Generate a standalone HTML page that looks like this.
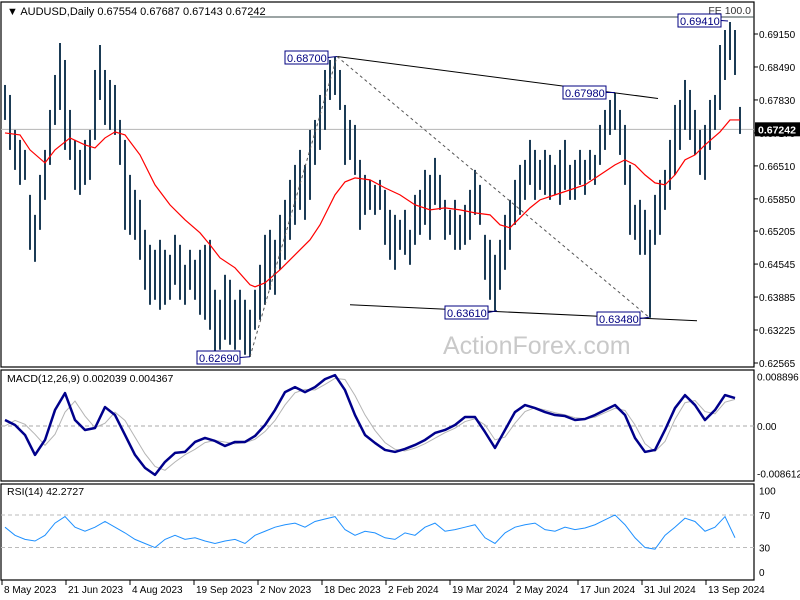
<!DOCTYPE html>
<html><head><meta charset="utf-8"><style>
html,body{margin:0;padding:0;background:#fff;}
svg{display:block;font-family:"Liberation Sans",sans-serif;}
</style></head><body>
<svg id="chart" width="800" height="600" viewBox="0 0 800 600" xmlns="http://www.w3.org/2000/svg">
<rect x="0" y="0" width="800" height="600" fill="#fff"/>
<g id="frames">
<rect x="1" y="2" width="753" height="365" fill="none" stroke="#000" stroke-width="1.2"/>
<rect x="1" y="370" width="753" height="111" fill="none" stroke="#000" stroke-width="1.2"/>
<rect x="1" y="484" width="753" height="96" fill="none" stroke="#000" stroke-width="1.2"/>
</g>
<text x="443" y="354" font-size="25" fill="#c9c9c9">ActionForex.com</text>
<g id="main"></g>
<g id="macd"></g>
<g id="rsi"></g>
<g id="axes"></g>
</svg>
<script>
// ---- data ----
const highs=[0.6813,0.6793,0.6723,0.6703,0.6683,0.6593,0.6553,0.6633,0.6683,0.6763,0.6833,0.6897,0.6863,0.6763,0.6703,0.6683,0.6703,0.6723,0.6843,0.6893,0.6843,0.6823,0.6813,0.6743,0.6703,0.6633,0.6603,0.6583,0.6523,0.6493,0.6483,0.6503,0.6483,0.6473,0.6513,0.6493,0.6453,0.6483,0.6463,0.6483,0.6493,0.6503,0.6403,0.6383,0.6433,0.6423,0.6383,0.6403,0.6383,0.6363,0.6403,0.6453,0.6513,0.6523,0.6503,0.6553,0.6583,0.6623,0.6653,0.6683,0.6653,0.6723,0.6743,0.6793,0.6843,0.6863,0.6869,0.6843,0.6773,0.6743,0.6733,0.6663,0.6633,0.6623,0.6613,0.6623,0.6603,0.6563,0.6553,0.6543,0.6563,0.6523,0.6593,0.6603,0.6643,0.6633,0.6667,0.6633,0.6583,0.6563,0.6583,0.6553,0.6573,0.6603,0.6643,0.6613,0.6513,0.6503,0.6473,0.6503,0.6553,0.6583,0.6623,0.6653,0.6663,0.6703,0.6683,0.6663,0.6683,0.6673,0.6653,0.6683,0.6703,0.6653,0.6663,0.6683,0.6663,0.6683,0.6673,0.6733,0.6763,0.6783,0.6797,0.6763,0.6733,0.6653,0.6573,0.6583,0.6563,0.6523,0.6593,0.6623,0.6643,0.6703,0.6773,0.6783,0.6823,0.6803,0.6763,0.6723,0.6733,0.6783,0.6793,0.6893,0.6923,0.6939,0.6923,0.6769];
const lows=[0.6743,0.6683,0.6643,0.6613,0.6623,0.6483,0.6459,0.6523,0.6583,0.6653,0.6733,0.6763,0.6683,0.6663,0.6603,0.6593,0.6613,0.6623,0.6703,0.6783,0.6733,0.6723,0.6713,0.6653,0.6523,0.6513,0.6503,0.6463,0.6403,0.6373,0.6383,0.6363,0.6373,0.6383,0.6413,0.6383,0.6373,0.6403,0.6383,0.6353,0.6343,0.6323,0.6279,0.6283,0.6303,0.6293,0.6283,0.6303,0.6273,0.6269,0.6323,0.6343,0.6373,0.6403,0.6393,0.6443,0.6463,0.6503,0.6533,0.6563,0.6543,0.6583,0.6653,0.6683,0.6723,0.6783,0.6793,0.6763,0.6653,0.6663,0.6633,0.6523,0.6553,0.6563,0.6553,0.6563,0.6493,0.6463,0.6443,0.6483,0.6473,0.6453,0.6493,0.6513,0.6533,0.6503,0.6573,0.6563,0.6503,0.6513,0.6483,0.6483,0.6493,0.6503,0.6553,0.6533,0.6423,0.6383,0.6361,0.6403,0.6443,0.6483,0.6533,0.6553,0.6583,0.6613,0.6583,0.6603,0.6593,0.6583,0.6593,0.6573,0.6603,0.6583,0.6583,0.6613,0.6593,0.6623,0.6613,0.6653,0.6683,0.6713,0.6723,0.6673,0.6613,0.6513,0.6503,0.6473,0.6473,0.6347,0.6493,0.6513,0.6563,0.6603,0.6633,0.6683,0.6723,0.6703,0.6673,0.6633,0.6623,0.6683,0.6723,0.6763,0.6823,0.6863,0.6833,0.6715];
const maIdx=[0,3,5,8,10,13,16,18,20,22,24,27,30,33,36,39,41,43,46,49,50,52,55,58,61,63,66,68,70,73,76,79,82,85,88,91,94,97,99,101,103,105,107,110,113,116,119,122,124,126,128,130,132,134,136,138,140,143,145,147];
const maVals=[0.6717,0.6713,0.6683,0.6657,0.6683,0.6707,0.6693,0.6687,0.6707,0.6719,0.6713,0.6673,0.6613,0.6573,0.6543,0.6517,0.6493,0.6467,0.6447,0.6413,0.6409,0.6417,0.6443,0.6473,0.6503,0.6533,0.6593,0.6619,0.6627,0.6623,0.6607,0.6593,0.6573,0.6563,0.6567,0.6563,0.6557,0.6553,0.6533,0.6527,0.6547,0.6567,0.6583,0.6593,0.6603,0.6613,0.6633,0.6653,0.6663,0.6653,0.6633,0.6617,0.6613,0.6633,0.6663,0.6673,0.6693,0.6719,0.6743,0.6743];
// MACD values x1000, sampled every 2 bars
const macdMain=[1.08,0.18,-1.62,-5.22,-2.52,2.88,5.94,1.08,-0.72,-0.36,3.42,1.98,-1.62,-5.22,-7.56,-8.82,-6.48,-4.86,-4.68,-2.88,-2.16,-2.70,-3.60,-2.88,-2.88,-1.80,0.18,2.88,6.12,7.02,6.12,7.02,8.46,9.18,6.48,1.98,-1.62,-3.06,-4.32,-4.68,-4.14,-3.42,-2.52,-1.26,-0.72,0.18,1.62,1.62,-1.08,-3.96,-0.72,2.52,3.78,3.24,2.52,1.98,1.80,1.08,1.26,1.98,2.88,3.78,1.98,-2.16,-4.68,-4.32,-0.72,3.24,5.58,3.78,1.08,2.88,5.58,5.04];
const macdSignal=[0.0,1.0,0.3,-1.5,-3.5,-1.5,2.5,4.5,1.8,-0.3,0.5,2.5,1.0,-2.0,-5.0,-7.3,-8.0,-6.5,-5.2,-4.2,-3.0,-2.6,-2.9,-3.2,-3.0,-2.4,-1.0,1.0,3.8,6.0,6.6,6.5,7.5,8.6,8.4,5.5,2.0,-0.8,-3.0,-4.2,-4.5,-4.0,-3.2,-2.2,-1.2,-0.4,0.8,1.3,0.2,-2.5,-2.0,0.5,2.6,3.3,2.9,2.4,2.0,1.5,1.3,1.6,2.4,3.2,2.8,0.2,-3.2,-4.6,-2.8,1.2,4.2,4.6,2.6,2.2,4.3,4.8];
const rsiVals=[55,45,40,38,45,60,68,55,50,55,62,55,48,40,35,30,40,45,40,42,38,35,38,40,35,45,50,55,58,60,55,62,65,68,52,45,50,48,42,40,48,45,55,60,50,52,55,58,42,35,48,55,58,60,52,50,55,52,54,58,64,70,58,42,30,28,45,55,66,62,50,55,68,42];
const priceTicks=["0.69150","0.68490","0.67830","0.67170","0.66510","0.65850","0.65205","0.64545","0.63885","0.63225","0.62565"];
const dateLabels=["8 May 2023","21 Jun 2023","4 Aug 2023","19 Sep 2023","2 Nov 2023","18 Dec 2023","2 Feb 2024","19 Mar 2024","2 May 2024","17 Jun 2024","31 Jul 2024","13 Sep 2024"];
const lastPrice=0.67242;
// ---- scales ----
const NS="http://www.w3.org/2000/svg";
const xB=i=>5+5*i;
const yP=p=>34+(0.6915-p)*4996;
const yM=v=>426-v*1e-3*5540;
const yR=v=>572-v*0.815;
function mk(tag,attrs,parent,txt){const e=document.createElementNS(NS,tag);for(const k in attrs)e.setAttribute(k,attrs[k]);if(txt!==undefined)e.textContent=txt;parent.appendChild(e);return e;}
const gMain=document.getElementById('main'),gM=document.getElementById('macd'),gR=document.getElementById('rsi'),gA=document.getElementById('axes');
let el=mk('line',{x1:1,x2:754,y1:yP(lastPrice),y2:yP(lastPrice),stroke:'#b4b4b4','stroke-width':1},gMain);


el=mk('line',{x1:250,x2:754,y1:yP(0.6949),y2:yP(0.6949),stroke:'#3a4a4a','stroke-width':1},gMain);


el=mk('text',{x:751,y:yP(0.6949)-3,'font-size':10.5,fill:'#333','text-anchor':'end'},gMain,'FE 100.0');


for(let i=0;i<highs.length;i++){
  const b=mk('line',{x1:xB(i),x2:xB(i),y1:yP(highs[i]),y2:yP(lows[i]),stroke:'#1b3b55','stroke-width':2},gMain);
  
  
}
el=mk('polyline',{points:maIdx.map((k,j)=>xB(k)+','+yP(maVals[j])).join(' '),fill:'none',stroke:'#ff0000','stroke-width':1.2},gMain);


const tl=[[66.4,0.6870,130.6,0.6786,'#000','none','upper-trendline'],[69,0.6373,138.4,0.6341,'#000','none','lower-trendline'],[49,0.6269,66.4,0.6870,'#555','3,3','rally-dashed'],[66.4,0.6870,128.8,0.6348,'#555','3,3','decline-dashed']];
tl.forEach(t=>{const l=mk('line',{x1:xB(t[0]),y1:yP(t[1]),x2:xB(t[2]),y2:yP(t[3]),stroke:t[4],'stroke-width':1,'stroke-dasharray':t[5]},gMain);

});
const labs=[["0.68700",66.4,0.6870,285,51],["0.67980",122,0.6798,563,86],["0.69410",144.6,0.6941,678,14],["0.62690",49,0.6269,197,351],["0.63610",98.4,0.6361,445,306],["0.63480",128.8,0.6348,597,312]];
labs.forEach(l=>{
  const r=mk('rect',{x:l[3],y:l[4],width:43,height:13,fill:'#fff',stroke:'#000080','stroke-width':1},gMain);
  
  
  const cl=mk('line',{x1:l[3]+43,y1:l[4]+6.5,x2:xB(l[1]),y2:yP(l[2]),stroke:'#000080','stroke-width':1},gMain);
  
  
  const t=mk('text',{x:l[3]+2,y:l[4]+11,'font-size':11,fill:'#000080'},gMain,l[0]);
  
  
});
el=mk('text',{x:7,y:15,'font-size':11,fill:'#000'},gMain,'\u25BC AUDUSD,Daily  0.67554 0.67687 0.67143 0.67242');


el=mk('line',{x1:1,x2:754,y1:yM(0),y2:yM(0),stroke:'#aaa','stroke-dasharray':'4,3'},gM);


el=mk('polyline',{points:macdSignal.map((v,j)=>xB(2*j)+','+yM(v)).join(' '),fill:'none',stroke:'#b4b4b4','stroke-width':1},gM);


el=mk('polyline',{points:macdMain.map((v,j)=>xB(2*j)+','+yM(v)).join(' '),fill:'none',stroke:'#00008b','stroke-width':2.5,'stroke-linejoin':'round'},gM);


el=mk('text',{x:7,y:382,'font-size':10.5,fill:'#000'},gM,'MACD(12,26,9) 0.002039 0.004367');


[70,30].forEach(v=>{const l=mk('line',{x1:1,x2:754,y1:yR(v),y2:yR(v),stroke:'#bbb','stroke-dasharray':'4,3'},gR);

});
el=mk('polyline',{points:rsiVals.map((v,j)=>xB(2*j)+','+yR(v)).join(' '),fill:'none',stroke:'#1e90ff','stroke-width':1},gR);


el=mk('text',{x:7,y:495,'font-size':10.5,fill:'#000'},gR,'RSI(14) 42.2727');


priceTicks.forEach(t=>{const y=yP(parseFloat(t));
  const k=mk('line',{x1:754,x2:758,y1:y,y2:y,stroke:'#000'},gA);
  
  
  const tx=mk('text',{x:759,y:y+4,'font-size':10,fill:'#000'},gA,t);
  
  });
el=mk('rect',{x:755,y:yP(lastPrice)-7,width:45,height:14,fill:'#000'},gA);


el=mk('text',{x:758,y:yP(lastPrice)+4,'font-size':10.5,fill:'#fff','font-weight':'bold'},gA,'0.67242');


[["0.008896",8.896],["0.00",0],["-0.008612",-8.612]].forEach(t=>{const y=yM(t[1]);
  const tx=mk('text',{x:757,y:y+4,'font-size':10,fill:'#000'},gA,t[0]);
  
  });
[100,70,30,0].forEach(v=>{const y=yR(v);
  const tx=mk('text',{x:759,y:y+4,'font-size':10,fill:'#000'},gA,String(v));
  
  });
dateLabels.forEach((d,j)=>{const x=2+64*j;
  const k=mk('line',{x1:x,x2:x,y1:580,y2:585,stroke:'#000'},gA);
  
  
  const tx=mk('text',{x:x+2,y:593,'font-size':10,fill:'#000'},gA,d);
  
  });
</script>
</body></html>
